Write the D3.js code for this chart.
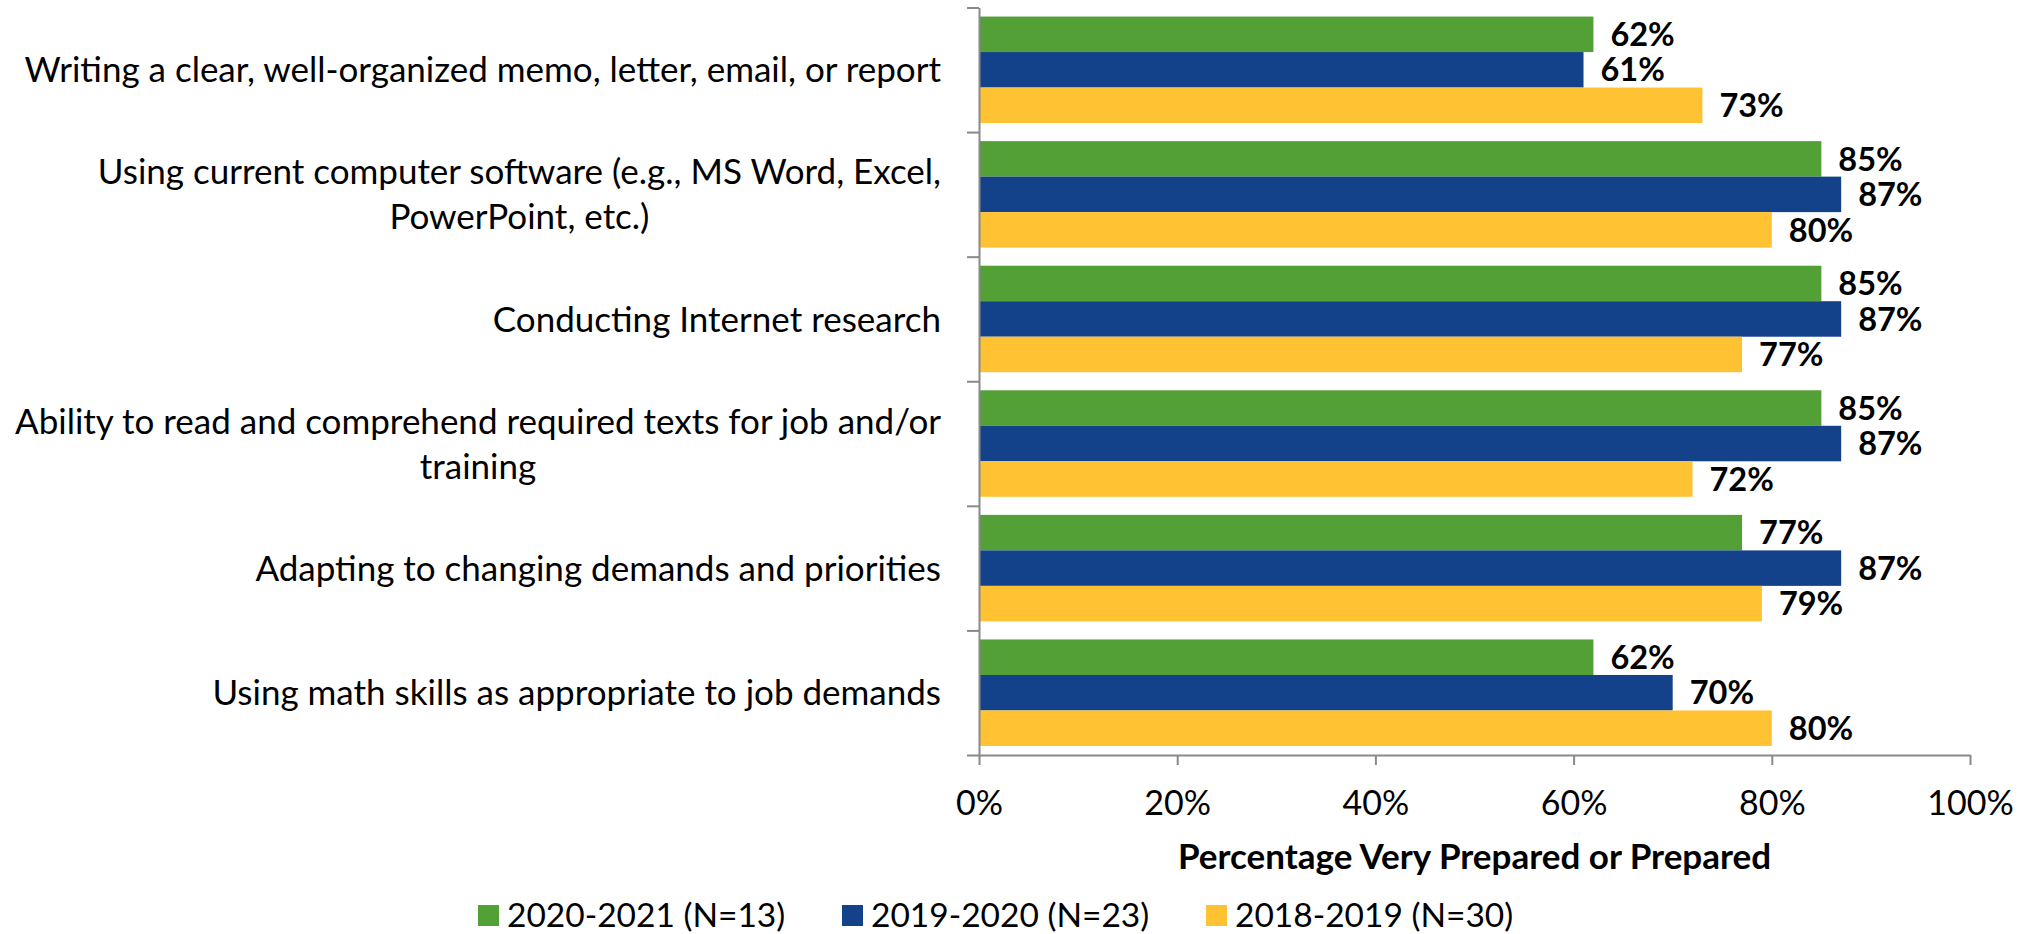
<!DOCTYPE html>
<html><head><meta charset="utf-8">
<script src="https://cdn.jsdelivr.net/npm/d3@7"></script>
<style>body{margin:0;background:#fff}svg{display:block}</style>
</head><body>
<svg id="chart" width="2030" height="934"></svg>
<script>
// ---- data ----
const categories = [
  "Writing a clear, well-organized memo, letter, email, or report",
  "Using current computer software (e.g., MS Word, Excel, PowerPoint, etc.)",
  "Conducting Internet research",
  "Ability to read and comprehend required texts for job and/or training",
  "Adapting to changing demands and priorities",
  "Using math skills as appropriate to job demands"
];
const categoryLines = [
  ["Writing a clear, well-organized memo, letter, email, or report"],
  ["Using current computer software (e.g., MS Word, Excel,", "PowerPoint, etc.)"],
  ["Conducting Internet research"],
  ["Ability to read and comprehend required texts for job and/or", "training"],
  ["Adapting to changing demands and priorities"],
  ["Using math skills as appropriate to job demands"]
];
const seriesNames = ["2020-2021 (N=13)", "2019-2020 (N=23)", "2018-2019 (N=30)"];
const values2020_2021 = [62, 85, 85, 85, 77, 62];
const values2019_2020 = [61, 87, 87, 87, 87, 70];
const values2018_2019 = [73, 80, 77, 72, 79, 80];
const xTickValues = [0, 20, 40, 60, 80, 100];
const xTitle = "Percentage Very Prepared or Prepared";
const seriesColors = ["#53A036", "#13428A", "#FFC232"];

const seriesValues = [values2020_2021, values2019_2020, values2018_2019];
const rows = categories.map((c, i) => ({
  cat: c,
  vals: seriesNames.map((s, j) => ({ series: s, value: seriesValues[j][i] }))
}));

// ---- layout ----
const FONT = "Lato, 'Open Sans', sans-serif";
const FS_CAT = 35, FS_TICK = 34, FS_TITLE = 35, FS_VAL = 32.5, FS_LEG = 33.5;
const pLeft = 979, pRight = 1970, pTop = 7.5, pBottom = 755;
const axisColor = "#898989";

const svg = d3.select("#chart");
const x = d3.scaleLinear().domain([0, 100]).range([pLeft, pRight]);
const y0 = d3.scaleBand().domain(categories).range([pTop, pBottom]).paddingInner(0).paddingOuter(0);
const y1 = d3.scaleBand().domain(seriesNames).range([0, y0.bandwidth()]).paddingInner(0).paddingOuter(0.255);
const color = d3.scaleOrdinal().domain(seriesNames).range(seriesColors);

// bars
const groups = svg.append("g").selectAll("g").data(rows).join("g")
  .attr("transform", d => `translate(0,${y0(d.cat)})`);
groups.selectAll("rect").data(d => d.vals).join("rect")
  .attr("x", x(0))
  .attr("y", d => y1(d.series))
  .attr("width", d => x(d.value) - x(0))
  .attr("height", y1.bandwidth())
  .attr("fill", d => color(d.series));

// data labels
groups.selectAll("text.val").data(d => d.vals).join("text")
  .attr("class", "val")
  .attr("x", d => x(d.value) + 17)
  .attr("y", d => y1(d.series) + y1.bandwidth() / 2)
  .attr("dy", "0.36em")
  .attr("font-family", FONT).attr("font-weight", "bold").attr("font-size", FS_VAL)
  .attr("fill", "#000")
  .text(d => d.value + "%");

// y axis (category boundaries)
const yb = d3.scaleLinear().domain([0, categories.length]).range([pTop, pBottom]);
const yAxis = svg.append("g").attr("transform", `translate(${pLeft},0)`)
  .call(d3.axisLeft(yb).tickValues(d3.range(categories.length + 1)).tickSize(12).tickSizeOuter(0).tickFormat(""));
yAxis.selectAll("path,line").attr("stroke", axisColor).attr("stroke-width", 2);

// x axis
const xAxis = svg.append("g").attr("transform", `translate(0,${pBottom})`)
  .call(d3.axisBottom(x).tickValues(xTickValues).tickSize(10).tickSizeOuter(0).tickFormat(d => d + "%"));
xAxis.selectAll("path,line").attr("stroke", axisColor).attr("stroke-width", 2);
xAxis.selectAll("text").attr("dy", null).attr("y", 60)
  .attr("font-family", FONT).attr("font-size", FS_TICK).attr("fill", "#000");

// category labels
const labelRight = 941;
svg.append("g").selectAll("text").data(rows).join("text")
  .attr("font-family", FONT).attr("font-size", FS_CAT).attr("fill", "#000")
  .attr("text-anchor", "middle")
  .each(function (d, i) {
    const lines = categoryLines[i];
    const t = d3.select(this);
    const tmp = t.append("tspan").text(lines.reduce((a, b) => a.length > b.length ? a : b));
    const w = tmp.node().getComputedTextLength();
    tmp.remove();
    const cx = labelRight - w / 2;
    const cy = y0(d.cat) + y0.bandwidth() / 2;
    const lh = 45;
    lines.forEach((ln, k) => {
      t.append("tspan").attr("x", cx)
        .attr("y", cy + (k - (lines.length - 1) / 2) * lh)
        .attr("dy", "0.36em").text(ln);
    });
  });

// x axis title
svg.append("text")
  .attr("x", (pLeft + pRight) / 2).attr("y", 869)
  .attr("text-anchor", "middle")
  .attr("font-family", FONT).attr("font-weight", "bold").attr("font-size", FS_TITLE)
  .text(xTitle);

// legend
const legend = svg.append("g").selectAll("g").data(seriesNames).join("g")
  .attr("transform", (d, i) => `translate(${478 + i * 364},905)`);
legend.append("rect").attr("width", 21).attr("height", 21).attr("fill", d => color(d));
legend.append("text").attr("x", 29).attr("y", 10.5).attr("dy", "0.35em")
  .attr("font-family", FONT).attr("font-size", FS_LEG).attr("fill", "#000")
  .text(d => d);
</script>
</body></html>
